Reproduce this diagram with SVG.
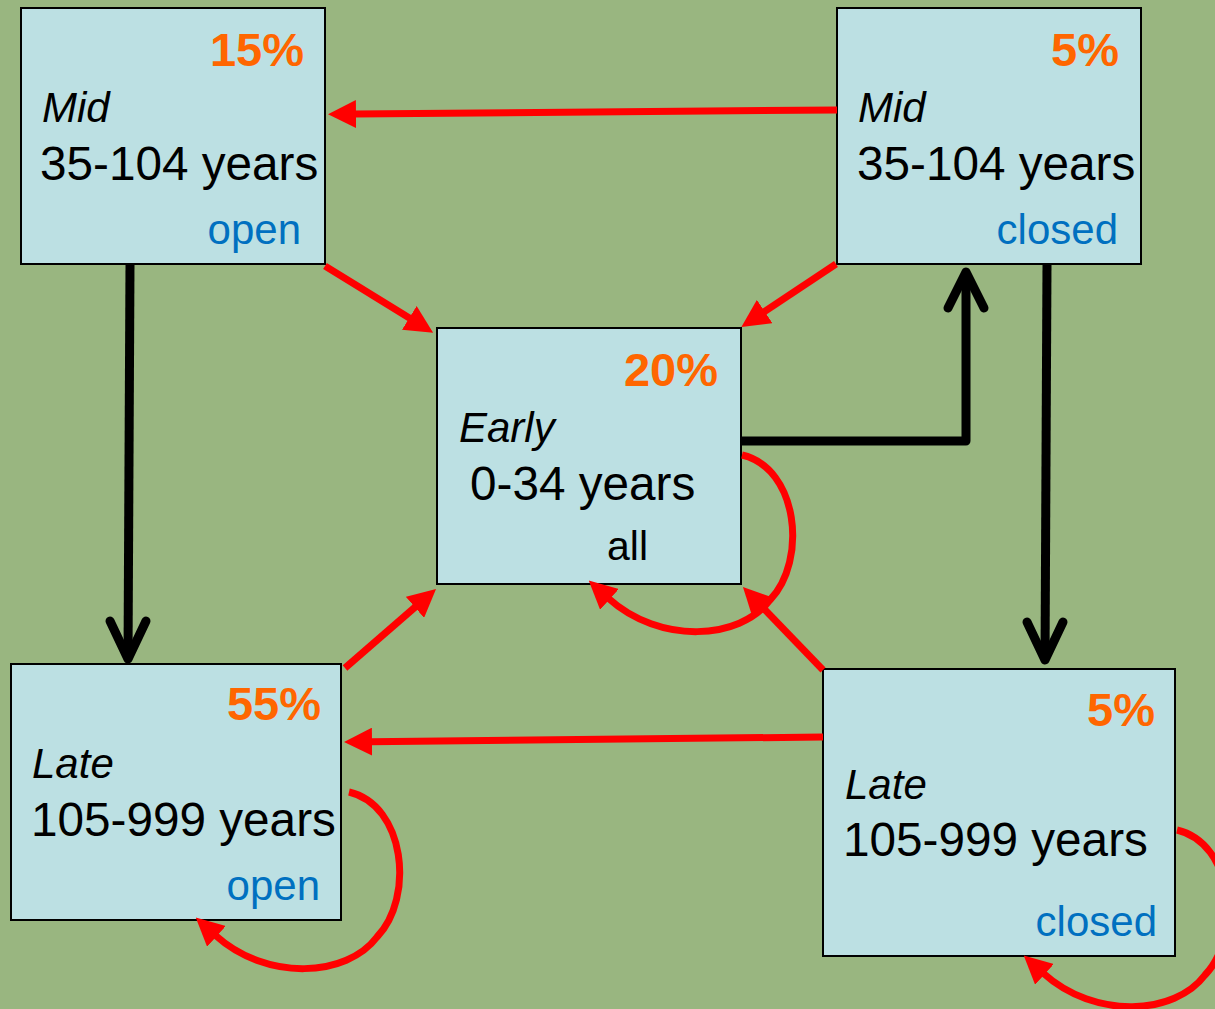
<svg xmlns="http://www.w3.org/2000/svg" width="1215" height="1009" viewBox="0 0 1215 1009">
<style>
.box{fill:#BCE0E3;stroke:#000;stroke-width:2}
text{font-family:"Liberation Sans",Arial,sans-serif}
.pct{font-size:47px;font-weight:bold;fill:#FF6600;text-anchor:end}
.lbl{font-size:42px;font-style:italic;fill:#000}
.yrs{font-size:47.7px;fill:#000}
.st{font-size:42px;fill:#0070C0;text-anchor:end}
.red{fill:none;stroke:#FF0000;stroke-width:7;marker-end:url(#ah)}
.blk{fill:none;stroke:#000;stroke-width:9}
.chev{fill:none;stroke:#000;stroke-width:9;stroke-linecap:round;stroke-linejoin:round}
</style>
<defs>
<marker id="ah" markerUnits="userSpaceOnUse" viewBox="0 0 28 28" refX="2" refY="14" markerWidth="28" markerHeight="28" orient="auto">
<path d="M0,0 L28,14 L0,28 z" fill="#FF0000"/>
</marker>
<path id="loop" d="M742,455 C798,468 808,560 770,600 C740,640 660,645 608,598"/>
</defs>
<rect width="1215" height="1009" fill="#99B680"/>
<g id="node-mid-open">
<rect class="box" x="21" y="8" width="304" height="256"/>
<text class="pct" x="304" y="66">15%</text>
<text class="lbl" x="42" y="122">Mid</text>
<text class="yrs" x="40" y="180">35-104 years</text>
<text class="st" x="301" y="244">open</text>
</g>
<g id="node-mid-closed">
<rect class="box" x="837" y="8" width="304" height="256"/>
<text class="pct" x="1119" y="66">5%</text>
<text class="lbl" x="858" y="122">Mid</text>
<text class="yrs" x="857" y="180">35-104 years</text>
<text class="st" x="1118" y="244">closed</text>
</g>
<g id="node-early">
<rect class="box" x="437" y="328" width="304" height="256"/>
<text class="pct" x="718" y="386">20%</text>
<text class="lbl" x="459" y="442">Early</text>
<text class="yrs" x="470" y="500">0-34 years</text>
<text class="yrs" x="648" y="560" style="font-size:41px;text-anchor:end">all</text>
</g>
<g id="node-late-open">
<rect class="box" x="11" y="664" width="330" height="256"/>
<text class="pct" x="321" y="720">55%</text>
<text class="lbl" x="32" y="778">Late</text>
<text class="yrs" x="31" y="836">105-999 years</text>
<text class="st" x="320" y="900">open</text>
</g>
<g id="node-late-closed">
<rect class="box" x="823" y="669" width="352" height="287"/>
<text class="pct" x="1155" y="726">5%</text>
<text class="lbl" x="845" y="799">Late</text>
<text class="yrs" x="843" y="856">105-999 years</text>
<text class="st" x="1157" y="936">closed</text>
</g>
<g id="connectors">
<path class="red" d="M837,110 L354,114"/>
<path class="red" d="M325,266 L411,319"/>
<path class="red" d="M836,264 L763,312.6"/>
<path class="red" d="M345,668 L416.4,606"/>
<path class="red" d="M823,670 L761,605.7"/>
<path class="red" d="M823,737 L370,741.7"/>
<use href="#loop" class="red"/>
<path class="red" d="M742,455 C798,468 808,560 770,600 C740,640 660,645 608,598" transform="translate(-393,337)"/>
<path class="red" d="M742,455 C798,468 808,560 770,600 C740,640 660,645 608,598" transform="translate(435,375)"/>
<path class="blk" d="M130,264 L128,659"/>
<path class="chev" d="M110,621 L128,659 L146,621"/>
<path class="blk" d="M1047,264 L1045,660"/>
<path class="chev" d="M1027,622 L1045,660 L1063,622"/>
<path class="blk" d="M741,441 L966,441 L966,272" style="stroke-linejoin:round"/>
<path class="chev" d="M948,308 L966,272 L984,308"/>
</g>
</svg>
